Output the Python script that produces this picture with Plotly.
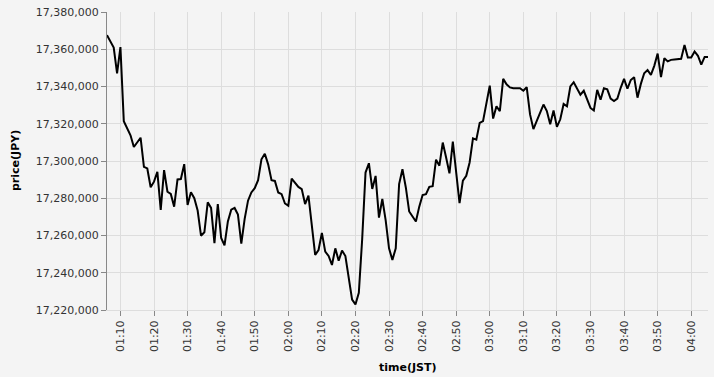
import pandas as pd
import plotly.graph_objects as go

# 1-minute prices, 01:06 to 04:05 (JST)
start_time = "2024-01-01 01:06"
n_points = 180
price = [
    17367600, 17364300, 17360900, 17347000, 17361200, 17321400, 17317900, 17313800, 17307500, 17310000,
    17312500, 17296900, 17296000, 17285900, 17288900, 17294200, 17273800, 17295100, 17283500, 17282300,
    17275500, 17290100, 17290300, 17298300, 17276400, 17283200, 17280000, 17273400, 17259900, 17261700,
    17277800, 17274800, 17255900, 17276900, 17258700, 17254700, 17267600, 17273900, 17274800, 17271200,
    17255600, 17268900, 17278700, 17283100, 17285400, 17289700, 17300900, 17303900, 17298200, 17289700,
    17289300, 17283100, 17282200, 17277200, 17276000, 17290600, 17288400, 17286100, 17284900, 17276900,
    17281400, 17265500, 17249600, 17252200, 17261400, 17251300, 17249000, 17244200, 17253100, 17246500,
    17251900, 17249000, 17236600, 17225600, 17223000, 17229200, 17258000, 17293800, 17298800, 17285000,
    17292000, 17269600, 17279600, 17268100, 17253100, 17246900, 17253100, 17287600, 17295600, 17285800,
    17272900, 17270200, 17267500, 17275500, 17281700, 17282200, 17286100, 17286500, 17300700, 17297500,
    17309900, 17301900, 17293400, 17310400, 17294800, 17277400, 17289500, 17292100, 17299200, 17312200,
    17311500, 17320500, 17321400, 17330200, 17340500, 17322800, 17329400, 17326700, 17344100, 17341200,
    17339500, 17339100, 17339100, 17339100, 17337700, 17339600, 17325000, 17317100, 17321500, 17326400,
    17330300, 17326800, 17319700, 17327100, 17318300, 17322400, 17330600, 17329400, 17340000, 17342300,
    17338800, 17335600, 17337700, 17332900, 17328500, 17327100, 17338200, 17332900, 17339100, 17338500,
    17333500, 17332200, 17333500, 17339300, 17344100, 17338800, 17343500, 17345000, 17334000, 17341400,
    17347100, 17348800, 17346200, 17351100, 17357700, 17345000, 17355200, 17353500, 17354300, 17354500,
    17354700, 17354900, 17362300, 17355600, 17355600, 17358800, 17356500, 17351700, 17355900, 17355900,
]
times = pd.date_range(start_time, periods=n_points, freq="1min")

y_min, y_max, y_step = 17220000, 17380000, 20000
x_tick0 = "2024-01-01 01:10"
x_title = "time(JST)"
y_title = "price(JPY)"

FONT = "DejaVu Sans, Verdana, sans-serif"
BG = "#f4f4f4"

fig = go.Figure()
fig.add_trace(go.Scatter(
    x=times, y=price, mode="lines",
    line=dict(color="#000000", width=2),
    hoverinfo="skip",
))

fig.update_layout(
    width=714, height=377,
    margin=dict(l=107, r=6, t=10, b=67),
    paper_bgcolor=BG, plot_bgcolor=BG,
    showlegend=False,
    font=dict(family=FONT, size=11, color="#333333"),
    annotations=[
        dict(text=f"<b>{x_title}</b>", xref="paper", yref="paper", x=0.5, y=0,
             yshift=-57, xanchor="center", yanchor="middle", showarrow=False,
             font=dict(family=FONT, size=11, color="#000000")),
        dict(text=f"<b>{y_title}</b>", xref="paper", yref="paper", x=0, y=0.5,
             xshift=-92, xanchor="center", yanchor="middle", showarrow=False,
             textangle=-90, font=dict(family=FONT, size=11, color="#000000")),
    ],
)

fig.update_xaxes(
    range=[times[0], times[-1]],
    tick0=x_tick0, dtick=600000, tickformat="%H:%M", tickangle=-90,
    showgrid=True, gridcolor="#dddddd", gridwidth=1,
    showline=True, linecolor="#dddddd", linewidth=1,
    ticks="outside", ticklen=5, tickcolor="#888888",
    tickfont=dict(family=FONT, size=11, color="#333333"),
    zeroline=False,
)
fig.update_yaxes(
    range=[y_min, y_max], dtick=y_step, tick0=y_min, tickformat=",d",
    showgrid=True, gridcolor="#dddddd", gridwidth=1,
    showline=True, linecolor="#888888", linewidth=1,
    ticks="outside", ticklen=5, tickcolor="#888888",
    tickfont=dict(family=FONT, size=11, color="#333333"),
    zeroline=False,
)

fig.write_html("out.html")
